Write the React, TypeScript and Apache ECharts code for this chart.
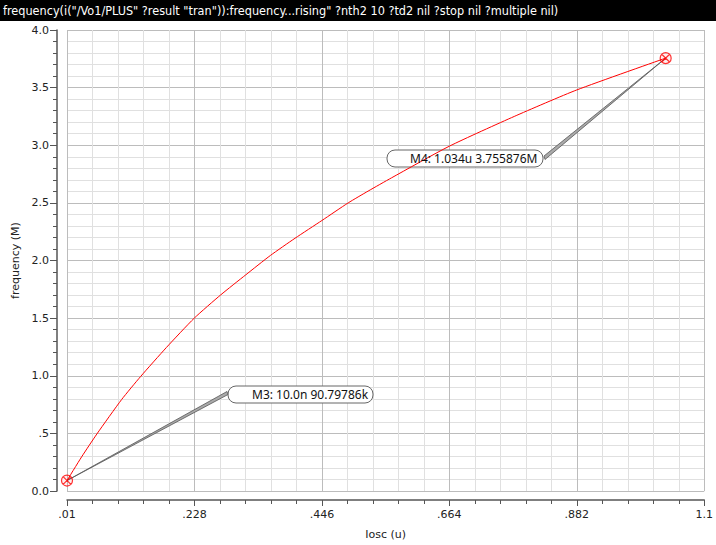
import React, { useEffect, useRef } from "react";
import * as echarts from "echarts";

// Data (Iosc in u, frequency in M)
const iosc = [0.01, 0.035, 0.061, 0.1035, 0.136, 0.18, 0.2277, 0.273, 0.3156, 0.358, 0.4, 0.446, 0.491, 0.525, 0.565, 0.664, 0.775, 0.882, 1.034];
const freq = [0.0908, 0.296, 0.494, 0.794, 0.994, 1.245, 1.5, 1.702, 1.875, 2.044, 2.193, 2.347, 2.5, 2.602, 2.717, 2.992, 3.25, 3.48, 3.7559];

const markerX = [0.01, 1.034];
const markerY = [0.09079786, 3.755876];
const markerText = ["M3: 10.0n 90.79786k", "M4: 1.034u 3.755876M"];

const xTickLabels = [".01", ".228", ".446", ".664", ".882", "1.1"];
const yTickLabels = ["0.0", ".5", "1.0", "1.5", "2.0", "2.5", "3.0", "3.5", "4.0"];

const X0 = 0.01;
const X_STEP = 0.218;
const titleText =
  'frequency(i("/Vo1/PLUS" ?result "tran")):frequency...rising" ?nth2 10 ?td2 nil ?stop nil ?multiple nil)';

const FONT = "DejaVu Sans, Verdana, sans-serif";
const BOX_FONT = '"Noto Sans", "DejaVu Sans", sans-serif';
const MARK =
  "path://M0,10A10,10,0,1,1,20,10A10,10,0,1,1,0,10Z M2.93,2.93L17.07,17.07M17.07,2.93L2.93,17.07";

export default function App() {
  const ref = useRef<HTMLDivElement>(null);
  useEffect(() => {
    if (!ref.current) return;
    const chart = echarts.init(ref.current, null, { renderer: "svg" });
    const axisCol = "#555";
    chart.setOption({
      animation: false,
      backgroundColor: "#fff",
      grid: { left: 67, right: 8, top: 30, bottom: 51, containLabel: false },
      xAxis: {
        type: "value",
        min: 0,
        max: 1.09,
        interval: X_STEP,
        offset: 9,
        name: "Iosc (u)",
        nameLocation: "middle",
        nameGap: 29,
        nameTextStyle: { fontSize: 11, color: "#222", fontFamily: FONT },
        axisLine: { show: true, onZero: false, lineStyle: { color: axisCol, width: 1.5 } },
        axisTick: { show: true, length: 6, lineStyle: { color: axisCol } },
        minorTick: { show: true, splitNumber: 5, length: 4, lineStyle: { color: axisCol } },
        splitLine: { show: true, lineStyle: { color: "#bcbcbc", width: 1 } },
        minorSplitLine: { show: true, lineStyle: { color: "#e0e0e0", width: 1 } },
        axisLabel: {
          fontSize: 11,
          color: "#222",
          fontFamily: FONT,
          margin: 9,
          formatter: (v: number) => xTickLabels[Math.round(v / X_STEP)] ?? "",
        },
      },
      yAxis: {
        type: "value",
        min: 0,
        max: 4,
        interval: 0.5,
        offset: 10,
        name: "frequency (M)",
        nameLocation: "middle",
        nameGap: 27,
        nameTextStyle: { fontSize: 11, color: "#222", fontFamily: FONT },
        axisLine: { show: true, onZero: false, lineStyle: { color: axisCol, width: 1.5 } },
        axisTick: { show: true, length: 7, lineStyle: { color: axisCol } },
        minorTick: { show: true, splitNumber: 5, length: 4, lineStyle: { color: axisCol } },
        splitLine: { show: true, lineStyle: { color: "#bcbcbc", width: 1 } },
        minorSplitLine: { show: true, lineStyle: { color: "#e0e0e0", width: 1 } },
        axisLabel: {
          fontSize: 11,
          color: "#222",
          fontFamily: FONT,
          margin: 8,
          formatter: (v: number) => yTickLabels[Math.round(v / 0.5)] ?? "",
        },
      },
      series: [
        {
          type: "line",
          data: iosc.map((x, i) => [x - X0, freq[i]]),
          showSymbol: false,
          smooth: 0.2,
          lineStyle: { color: "#ff0000", width: 1 },
          z: 5,
        },
        {
          type: "scatter",
          data: markerX.map((x, i) => [x - X0, markerY[i]]),
          symbol: MARK,
          symbolSize: 11,
          clip: false,
          itemStyle: { color: "rgba(255,0,0,0.08)", borderColor: "#ff0000", borderWidth: 1.2 },
          z: 6,
        },
      ],
    });

    const p3 = chart.convertToPixel({ gridIndex: 0 }, [markerX[0] - X0, markerY[0]]) as number[];
    const p4 = chart.convertToPixel({ gridIndex: 0 }, [markerX[1] - X0, markerY[1]]) as number[];

    const box = (x: number, y: number, w: number, txt: string, tx: number) => [
      {
        type: "rect",
        z: 1,
        shape: { x, y, width: w, height: 17, r: 8 },
        style: { fill: "#fff", stroke: "#666", lineWidth: 1 },
      },
      {
        type: "text",
        z: 7,
        x: tx,
        y: y + 8.5,
        style: {
          text: txt,
          fill: "#111",
          font: `12px ${BOX_FONT}`,
          verticalAlign: "middle",
          align: "left",
        },
      },
    ];

    chart.setOption({
      graphic: [
        {
          type: "rect",
          z: 10,
          shape: { x: 0, y: 0, width: 716, height: 21 },
          style: { fill: "#000" },
        },
        {
          type: "text",
          z: 11,
          x: 3,
          y: 10.5,
          scaleX: 0.967,
          style: {
            text: titleText,
            fill: "#fff",
            font: `13px "Liberation Sans Narrow", "DejaVu Sans Condensed", sans-serif`,
            verticalAlign: "middle",
          },
        },
        {
          type: "polygon",
          z: 4,
          shape: { points: [[p3[0], p3[1]], [227, 391.5], [228, 394.5]] },
          style: { fill: "#aaa", stroke: "#555", lineWidth: 0.8 },
        },
        {
          type: "polygon",
          z: 4,
          shape: { points: [[p4[0], p4[1]], [544, 156], [545, 159.5]] },
          style: { fill: "#aaa", stroke: "#555", lineWidth: 0.8 },
        },
        ...box(228, 386, 145, markerText[0], 252),
        ...box(387, 150, 156, markerText[1], 410),
      ],
    });

    return () => chart.dispose();
  }, []);
  return (
    <div
      ref={ref}
      style={{ position: "fixed", left: 0, top: 0, width: 716, height: 545 }}
    />
  );
}
